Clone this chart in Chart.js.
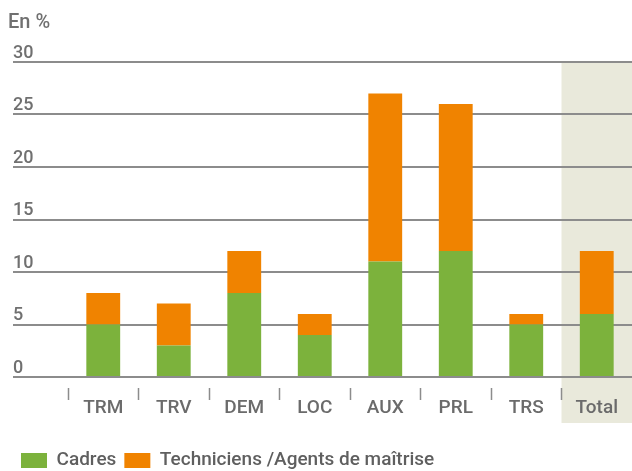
<!DOCTYPE html>
<html>
<head>
<meta charset="utf-8">
<script src="https://cdn.jsdelivr.net/npm/chart.js@4/dist/chart.umd.min.js"></script>
<style>
  html, body { margin: 0; padding: 0; background: #fff; }
  #wrap { width: 632px; height: 471px; position: relative; }
</style>
</head>
<body>
<div id="wrap"><canvas id="chart"></canvas></div>
<script>
/* data */
const categories = ['TRM', 'TRV', 'DEM', 'LOC', 'AUX', 'PRL', 'TRS', 'Total'];
const cadres = [5, 3, 8, 4, 11, 12, 5, 6];
const techniciens = [3, 4, 4, 2, 16, 14, 1, 6];
const yTicks = [0, 5, 10, 15, 20, 25, 30];

const FONT = 'Roboto, "DejaVu Sans", sans-serif';
const GRID = '#8c8c8c';

// shaded column behind the "Total" category + the "En %" caption
const decor = {
  id: 'decor',
  beforeDraw(chart) {
    const { ctx, scales: { x, y } } = chart;
    const last = categories.length - 1;
    const half = (x.getPixelForValue(1) - x.getPixelForValue(0)) / 2;
    const left = x.getPixelForValue(last) - half;
    const top = y.getPixelForValue(yTicks[yTicks.length - 1]);
    ctx.save();
    ctx.fillStyle = '#e9e9db';
    ctx.fillRect(left, top, chart.width - left, y.getPixelForValue(0) + 46 - top);
    ctx.fillStyle = '#707070';
    ctx.font = '500 20px ' + FONT;
    ctx.textBaseline = 'middle';
    ctx.fillText('En %', 8, 23);
    ctx.restore();
  }
};

new Chart(document.getElementById('chart'), {
  type: 'bar',
  data: {
    labels: categories,
    datasets: [
      { label: 'Cadres', data: cadres, backgroundColor: '#7cb23c' },
      { label: 'Techniciens /Agents de maîtrise', data: techniciens, backgroundColor: '#f08300' }
    ]
  },
  options: {
    responsive: true, maintainAspectRatio: false, animation: false,
    layout: { padding: { left: 13, right: 0, top: 62, bottom: -9 } },
    datasets: { bar: { barPercentage: 0.48, categoryPercentage: 1 } },
    plugins: {
      tooltip: { enabled: false },
      legend: {
        position: 'bottom', align: 'start',
        labels: { boxWidth: 26, boxHeight: 15, padding: 8, color: '#5f5f5f', font: { family: FONT, size: 19, weight: '500' } }
      }
    },
    scales: {
      x: {
        stacked: true,
        border: { display: false },
        grid: {
          drawOnChartArea: false, drawTicks: true, tickLength: 23,
          tickWidth: 1.5, tickBorderDash: [0, 11, 12, 100],
          tickColor: c => c.type === 'tick' ? GRID : 'rgba(0,0,0,0)'
        },
        ticks: { padding: -3, color: '#6b6b6b', font: { family: FONT, size: 19, weight: '500' } },
        afterFit: s => { s.height = 66; }
      },
      y: {
        stacked: true, min: 0, max: 30,
        border: { display: false },
        grid: { color: GRID, lineWidth: 2, tickLength: 55, drawTicks: true },
        afterBuildTicks: s => { s.ticks = yTicks.map(v => ({ value: v })); },
        ticks: { crossAlign: 'far', labelOffset: -9, padding: 0, color: '#707070', font: { family: FONT, size: 18, weight: '500' } },
        afterFit: s => { s.width = 55; }
      }
    }
  },
  plugins: [decor]
});
</script>
</body>
</html>
